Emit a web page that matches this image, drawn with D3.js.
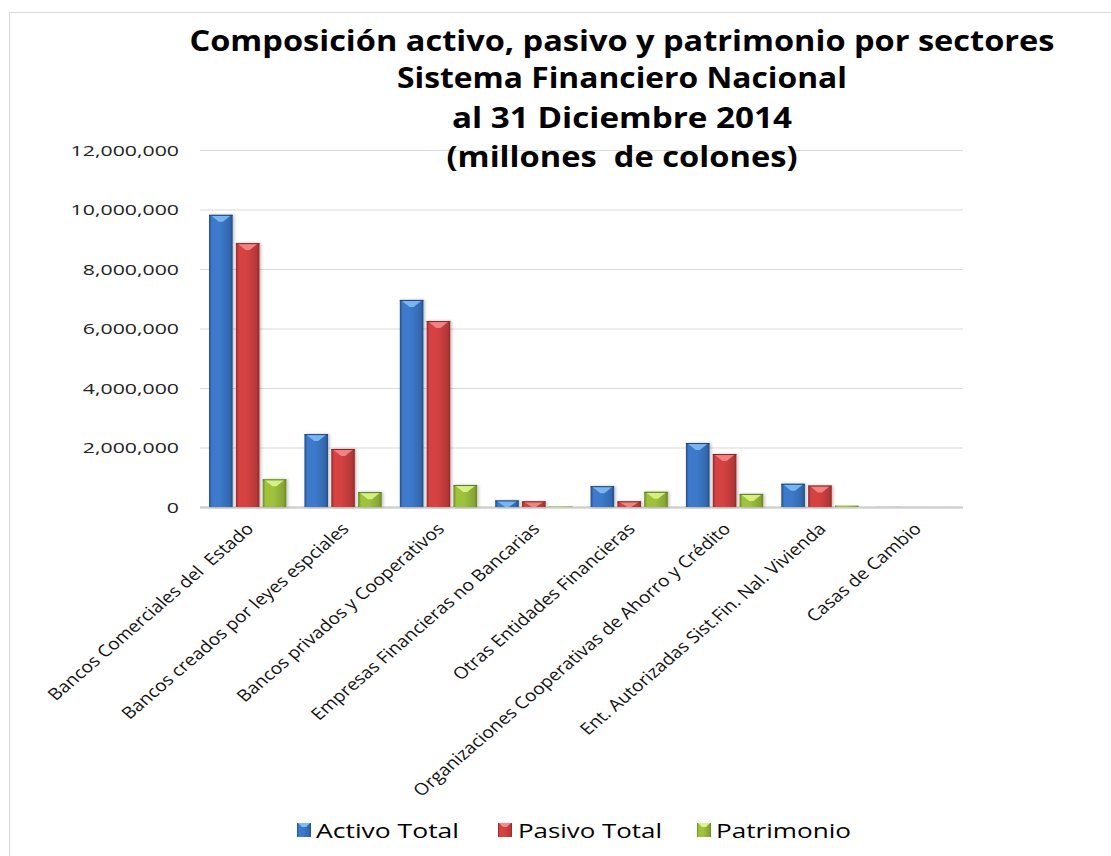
<!DOCTYPE html>
<html>
<head>
<meta charset="utf-8">
<script src="https://cdn.jsdelivr.net/npm/d3@7"></script>
<style>
  html, body { margin: 0; padding: 0; background: #fff; }
  svg { display: block; }
  text { font-family: "Open Sans", "DejaVu Sans", sans-serif; white-space: pre; }
</style>
</head>
<body>
<svg id="chart" width="1111" height="856"></svg>
<script>
// ---------- DATA ----------
const titleLines = [
  "Composición activo, pasivo y patrimonio por sectores",
  "Sistema Financiero Nacional",
  "al 31 Diciembre 2014",
  "(millones  de colones)"
];
const categories = [
  "Bancos Comerciales del  Estado",
  "Bancos creados por leyes espciales",
  "Bancos privados y Cooperativos",
  "Empresas Financieras no Bancarias",
  "Otras Entidades Financieras",
  "Organizaciones Cooperativas de Ahorro y Crédito",
  "Ent. Autorizadas Sist.Fin. Nal. Vivienda",
  "Casas de Cambio"
];
const seriesNames = ["Activo Total", "Pasivo Total", "Patrimonio"];
const activoTotal = [9820000, 2450000, 6960000, 220000, 700000, 2150000, 780000, 3000];
const pasivoTotal = [8870000, 1950000, 6250000, 190000, 190000, 1780000, 720000, 1500];
const patrimonio  = [930000, 500000, 740000, 20000, 510000, 440000, 50000, 1500];
const yTicks = [0, 2000000, 4000000, 6000000, 8000000, 10000000, 12000000];

// ---------- STYLE ----------
const seriesColors = [
  { mid: "#3c7acb", edge: "#234c88", light: "#7fbdf5" },
  { mid: "#d44242", edge: "#962828", light: "#f58a8a" },
  { mid: "#9fc23e", edge: "#688720", light: "#dcf58a" }
];

const svg = d3.select("#chart");
const defs = svg.append("defs");

seriesColors.forEach((c, i) => {
  const g = defs.append("linearGradient").attr("id", "grad" + i)
    .attr("x1", "0%").attr("x2", "100%").attr("y1", "0%").attr("y2", "0%");
  g.append("stop").attr("offset", "0%").attr("stop-color", c.edge);
  g.append("stop").attr("offset", "12%").attr("stop-color", c.mid);
  g.append("stop").attr("offset", "45%").attr("stop-color", c.mid);
  g.append("stop").attr("offset", "88%").attr("stop-color", d3.color(c.mid).darker(0.45));
  g.append("stop").attr("offset", "100%").attr("stop-color", c.edge);
});
const shadow = defs.append("filter").attr("id", "shadow")
  .attr("x", "-30%").attr("y", "-10%").attr("width", "160%").attr("height", "130%");
shadow.append("feDropShadow").attr("dx", 1.5).attr("dy", 0).attr("stdDeviation", 1.5)
  .attr("flood-color", "#000").attr("flood-opacity", 0.25);

// frame
svg.append("rect").attr("x", 9.5).attr("y", 12.5).attr("width", 1120).attr("height", 900)
  .attr("fill", "none").attr("stroke", "#d9d9d9").attr("stroke-width", 1);

// ---------- SCALES ----------
const plotLeft = 200, plotRight = 963, plotTop = 150, plotBottom = 507;
const y = d3.scaleLinear().domain([0, 12000000]).range([plotBottom, plotTop]);
const x0 = d3.scaleBand().domain(categories).range([plotLeft, plotRight])
  .paddingInner(0.19).paddingOuter(0.095);
const x1 = d3.scaleBand().domain(seriesNames).range([0, x0.bandwidth()]).paddingInner(0.12);

const values = [activoTotal, pasivoTotal, patrimonio];

// ---------- GRID ----------
const grid = svg.append("g").attr("transform", `translate(${plotLeft},0)`)
  .call(d3.axisLeft(y).tickValues(yTicks).tickSize(-(plotRight - plotLeft)).tickFormat(""));
grid.select(".domain").remove();
grid.selectAll(".tick line").attr("stroke", "#d9d9d9").attr("stroke-width", 1.2);
grid.selectAll(".tick").filter(d => d === 0).select("line")
  .attr("stroke", "#d0d0d0").attr("stroke-width", 2.5);

// y tick labels
const fmt = d3.format(",");
svg.append("g").selectAll("text").data(yTicks).join("text")
  .attr("transform", d => `translate(179,${y(d) + 5.5}) scale(1.42,1)`)
  .attr("text-anchor", "end")
  .attr("font-size", 15)
  .attr("fill", "#222")
  .text(d => fmt(d));

// ---------- BARS ----------
const groups = svg.append("g").selectAll("g").data(categories).join("g")
  .attr("transform", d => `translate(${x0(d)},0)`);

groups.each(function(cat, ci) {
  const g = d3.select(this);
  seriesNames.forEach((s, si) => {
    const v = values[si][ci];
    const bx = x1(s), bw = x1.bandwidth();
    const top = y(v), h = y(0) - y(v);
    if (h <= 0) return;
    g.append("rect")
      .attr("x", bx).attr("y", top).attr("width", bw).attr("height", h)
      .attr("fill", `url(#grad${si})`)
      .attr("filter", h > 2 ? "url(#shadow)" : null);
    if (h > 2) {
      const ch = Math.min(7, h);
      g.append("path")
        .attr("d", `M${bx + 1},${top} L${bx + bw - 1},${top} L${bx + bw / 2 + 2},${top + ch} L${bx + bw / 2 - 2},${top + ch} Z`)
        .attr("fill", seriesColors[si].light).attr("opacity", 0.9);
      g.append("line").attr("x1", bx).attr("x2", bx + bw).attr("y1", top + 0.5).attr("y2", top + 0.5)
        .attr("stroke", d3.color(seriesColors[si].edge).darker(0.3)).attr("stroke-width", 1);
    }
  });
});

// ---------- X LABELS ----------
svg.append("g").selectAll("text").data(categories).join("text")
  .attr("transform", d => `translate(${x0(d) + x0.bandwidth() / 2 + 7},530) scale(1.16,1) rotate(-45)`)
  .attr("text-anchor", "end")
  .attr("font-size", 16.5)
  .attr("fill", "#111")
  .text(d => d);

// ---------- TITLE ----------
const titleSpecs = [
  { y: 51, w: 865 }, { y: 88, w: 450 }, { y: 128, w: 340 }, { y: 167, w: 351 }
];
svg.append("g").selectAll("text").data(titleLines).join("text")
  .attr("x", 622).attr("y", (d, i) => titleSpecs[i].y)
  .attr("text-anchor", "middle")
  .attr("font-size", 29).attr("font-weight", "bold").attr("fill", "#000")
  .attr("textLength", (d, i) => titleSpecs[i].w)
  .attr("lengthAdjust", "spacingAndGlyphs")
  .text(d => d);

// ---------- LEGEND ----------
const legendSpecs = [
  { mx: 297, tx: 316, tw: 143 },
  { mx: 498, tx: 518, tw: 144 },
  { mx: 697, tx: 716, tw: 135 }
];
const leg = svg.append("g").selectAll("g").data(seriesNames).join("g");
leg.append("rect")
  .attr("x", (d, i) => legendSpecs[i].mx).attr("y", 823).attr("width", 14).attr("height", 14)
  .attr("fill", (d, i) => `url(#grad${i})`);
leg.append("path")
  .attr("d", (d, i) => { const mx = legendSpecs[i].mx; return `M${mx + 1},823 L${mx + 13},823 L${mx + 9},827 L${mx + 5},827 Z`; })
  .attr("fill", (d, i) => seriesColors[i].light);
leg.append("text")
  .attr("x", (d, i) => legendSpecs[i].tx).attr("y", 838)
  .attr("font-size", 20).attr("fill", "#000")
  .attr("textLength", (d, i) => legendSpecs[i].tw)
  .attr("lengthAdjust", "spacingAndGlyphs")
  .text(d => d);
</script>
</body>
</html>
